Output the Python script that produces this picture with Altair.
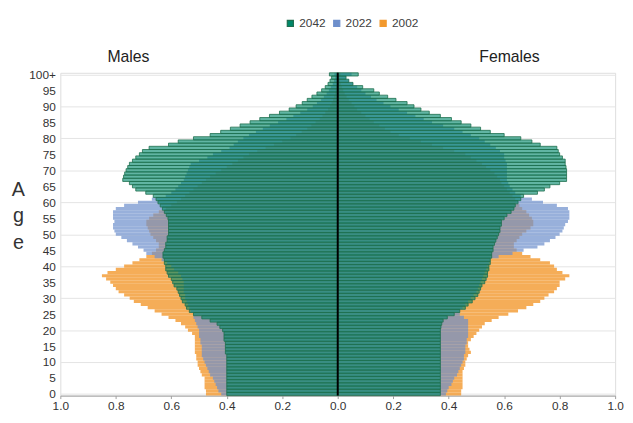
import altair as alt
import pandas as pd
import numpy as np

ages = list(range(101))
years = ["2042", "2022", "2002"]
sex_titles = ["Males", "Females"]
x_ticks = [-1.0, -0.8, -0.6, -0.4, -0.2, 0.0, 0.2, 0.4, 0.6, 0.8, 1.0]
y_ticks = [0, 5, 10, 15, 20, 25, 30, 35, 40, 45, 50, 55, 60, 65, 70, 75, 80, 85, 90, 95, 100]

male_2042 = [
    0.40, 0.40, 0.40, 0.40, 0.40, 0.40, 0.40, 0.40, 0.40, 0.40,
    0.40, 0.40, 0.40, 0.405, 0.405, 0.405, 0.405, 0.41, 0.41, 0.41,
    0.415, 0.425, 0.435, 0.46, 0.49, 0.52, 0.535, 0.545, 0.55, 0.56,
    0.565, 0.57, 0.575, 0.58, 0.59, 0.595, 0.60, 0.61, 0.615, 0.62,
    0.62, 0.625, 0.625, 0.63, 0.63, 0.625, 0.62, 0.62, 0.615, 0.615,
    0.61, 0.61, 0.61, 0.61, 0.61, 0.612, 0.618, 0.625, 0.632, 0.64,
    0.648, 0.655, 0.665, 0.692, 0.728, 0.74, 0.751, 0.775, 0.772, 0.768,
    0.763, 0.757, 0.751, 0.74, 0.728, 0.715, 0.704, 0.68, 0.61, 0.575,
    0.52, 0.46, 0.422, 0.387, 0.352, 0.316, 0.281, 0.246, 0.21, 0.175,
    0.15, 0.128, 0.11, 0.093, 0.075, 0.058, 0.045, 0.035, 0.028, 0.022,
    0.03,
]
male_2022 = [
    0.42, 0.43, 0.435, 0.44, 0.445, 0.45, 0.46, 0.465, 0.47, 0.475,
    0.48, 0.485, 0.49, 0.49, 0.49, 0.49, 0.495, 0.495, 0.50, 0.50,
    0.50, 0.505, 0.51, 0.515, 0.52, 0.52, 0.53, 0.535, 0.54, 0.545,
    0.55, 0.55, 0.555, 0.555, 0.555, 0.555, 0.56, 0.565, 0.575, 0.59,
    0.60, 0.615, 0.635, 0.66, 0.69, 0.70, 0.72, 0.74, 0.76, 0.78,
    0.80, 0.805, 0.81, 0.81, 0.805, 0.81, 0.81, 0.81, 0.80, 0.77,
    0.72, 0.67, 0.62, 0.60, 0.585, 0.575, 0.565, 0.555, 0.55, 0.545,
    0.54, 0.535, 0.53, 0.50, 0.47, 0.45, 0.42, 0.39, 0.375, 0.36,
    0.34, 0.32, 0.295, 0.27, 0.245, 0.215, 0.185, 0.16, 0.135, 0.11,
    0.09, 0.075, 0.06, 0.05, 0.04, 0.032, 0.025, 0.018, 0.013, 0.009,
    0.012,
]
male_2002 = [
    0.475, 0.475, 0.48, 0.48, 0.48, 0.48, 0.49, 0.495, 0.50, 0.505,
    0.505, 0.51, 0.51, 0.515, 0.515, 0.515, 0.515, 0.515, 0.515, 0.525,
    0.54, 0.55, 0.565, 0.585, 0.61, 0.635, 0.66, 0.685, 0.71, 0.735,
    0.75, 0.77, 0.79, 0.80, 0.81, 0.82, 0.835, 0.85, 0.83, 0.80,
    0.77, 0.74, 0.715, 0.69, 0.67, 0.655, 0.645, 0.645, 0.655, 0.665,
    0.675, 0.68, 0.685, 0.69, 0.69, 0.68, 0.665, 0.645, 0.62, 0.60,
    0.58, 0.565, 0.55, 0.535, 0.52, 0.505, 0.49, 0.475, 0.46, 0.44,
    0.42, 0.40, 0.38, 0.36, 0.34, 0.32, 0.29, 0.26, 0.23, 0.20,
    0.17, 0.15, 0.13, 0.11, 0.095, 0.08, 0.065, 0.055, 0.045, 0.035,
    0.028, 0.022, 0.017, 0.013, 0.01, 0.008, 0.006, 0.004, 0.003, 0.002,
    0.003,
]
female_2042 = [
    0.37, 0.37, 0.37, 0.37, 0.37, 0.37, 0.37, 0.37, 0.37, 0.37,
    0.37, 0.37, 0.37, 0.37, 0.37, 0.37, 0.37, 0.37, 0.37, 0.37,
    0.37, 0.372, 0.375, 0.38, 0.395, 0.42, 0.44, 0.46, 0.47, 0.485,
    0.495, 0.505, 0.51, 0.515, 0.52, 0.53, 0.535, 0.54, 0.54, 0.545,
    0.545, 0.55, 0.55, 0.555, 0.555, 0.56, 0.56, 0.565, 0.57, 0.575,
    0.58, 0.585, 0.585, 0.59, 0.59, 0.60, 0.61, 0.625, 0.635, 0.64,
    0.65, 0.66, 0.67, 0.72, 0.745, 0.765, 0.80, 0.825, 0.825, 0.825,
    0.825, 0.823, 0.82, 0.82, 0.81, 0.80, 0.795, 0.79, 0.73, 0.70,
    0.66, 0.60, 0.55, 0.515, 0.48, 0.445, 0.41, 0.37, 0.33, 0.30,
    0.275, 0.25, 0.21, 0.18, 0.15, 0.13, 0.09, 0.055, 0.04, 0.03,
    0.074,
]
female_2022 = [
    0.39, 0.395, 0.40, 0.41, 0.415, 0.42, 0.43, 0.435, 0.44, 0.445,
    0.45, 0.455, 0.455, 0.46, 0.46, 0.46, 0.465, 0.465, 0.47, 0.47,
    0.47, 0.47, 0.47, 0.47, 0.455, 0.44, 0.44, 0.45, 0.46, 0.47,
    0.48, 0.49, 0.50, 0.505, 0.51, 0.515, 0.52, 0.525, 0.53, 0.535,
    0.54, 0.545, 0.55, 0.58, 0.63, 0.67, 0.72, 0.745, 0.765, 0.785,
    0.80, 0.81, 0.815, 0.82, 0.83, 0.835, 0.835, 0.835, 0.83, 0.79,
    0.74, 0.70, 0.66, 0.64, 0.63, 0.62, 0.615, 0.61, 0.61, 0.61,
    0.61, 0.61, 0.61, 0.605, 0.60, 0.60, 0.585, 0.57, 0.55, 0.53,
    0.51, 0.48, 0.45, 0.42, 0.38, 0.34, 0.31, 0.28, 0.25, 0.22,
    0.19, 0.165, 0.14, 0.12, 0.10, 0.085, 0.07, 0.055, 0.04, 0.03,
    0.05,
]
female_2002 = [
    0.445, 0.445, 0.45, 0.45, 0.45, 0.45, 0.45, 0.45, 0.455, 0.46,
    0.46, 0.465, 0.47, 0.48, 0.475, 0.47, 0.47, 0.48, 0.49, 0.50,
    0.51, 0.52, 0.53, 0.555, 0.58, 0.615, 0.65, 0.68, 0.705, 0.73,
    0.745, 0.76, 0.78, 0.79, 0.80, 0.80, 0.82, 0.835, 0.81, 0.79,
    0.78, 0.765, 0.73, 0.695, 0.665, 0.645, 0.635, 0.635, 0.645, 0.655,
    0.665, 0.68, 0.695, 0.705, 0.705, 0.70, 0.69, 0.68, 0.665, 0.655,
    0.645, 0.64, 0.63, 0.62, 0.61, 0.60, 0.59, 0.585, 0.575, 0.565,
    0.55, 0.535, 0.52, 0.50, 0.48, 0.46, 0.42, 0.38, 0.34, 0.30,
    0.26, 0.22, 0.19, 0.17, 0.15, 0.13, 0.115, 0.10, 0.085, 0.07,
    0.06, 0.05, 0.04, 0.032, 0.025, 0.02, 0.015, 0.011, 0.008, 0.006,
    0.01,
]

rows = []
for year, m, f in [("2002", male_2002, female_2002),
                   ("2022", male_2022, female_2022),
                   ("2042", male_2042, female_2042)]:
    for a, v in zip(ages, m):
        rows.append({"age": a, "year": year, "sex": "Males", "value": v})
    for a, v in zip(ages, f):
        rows.append({"age": a, "year": year, "sex": "Females", "value": v})
df = pd.DataFrame(rows)
df["signed"] = np.where(df["sex"] == "Males", -df["value"], df["value"])
df["lo"] = df["age"] - 0.5
df["hi"] = df["age"] + 0.5
df["zero"] = 0.0

W, H = 562, 327
FONT = "Liberation Sans"

xscale = alt.Scale(domain=[-1, 1], nice=False, zero=False)
yscale = alt.Scale(domain=[-0.5, 100.5], nice=False, zero=False)

xaxis = alt.Axis(values=x_ticks, labelExpr="format(abs(datum.value), '.1f')",
                 grid=False, domainColor="#a0a0a0", tickColor="#a0a0a0", tickSize=3,
                 labelFontSize=12, labelColor="#333333", labelPadding=2,
                 labelBaseline="top",
                 labelFlush=False, labelOverlap=False, title=None)
yaxis = alt.Axis(values=y_ticks,
                 labelExpr="datum.value == 100 ? '100+' : datum.label",
                 grid=True, gridColor="#e4e4e4",
                 gridOpacity=alt.ConditionalAxisNumber(
                     condition={"test": "datum.value % 10 === 0", "value": 1}, value=0),
                 domain=False, ticks=False, labelPadding=5,
                 labelFontSize=12, labelColor="#333333", labelOverlap=False,
                 title=["A", "g", "e"], titleAngle=0, titleX=-43, titleY=108,
                 titleFontSize=20, titleFontWeight="normal", titleLineHeight=27,
                 titleAlign="center", titleBaseline="top", titleColor="#333333")

fill_scale = alt.Scale(domain=years, range=["#00876A", "#6E8FCC", "#F2992E"])
stroke_scale = alt.Scale(domain=years, range=["#1E6E4E", "#6E8FCC", "#F2992E"])
op_scale = alt.Scale(domain=years, range=[0.62, 0.8, 1.0])

legend = alt.Legend(title=None, orient="none", legendX=227, legendY=-56,
                    direction="horizontal", symbolType="square", symbolSize=38,
                    symbolStrokeWidth=1.2, labelFontSize=12, labelColor="#404040",
                    labelOffset=3, columnPadding=5, padding=0, labelFont=FONT)


def bars(year, sw):
    return alt.Chart(df[df["year"] == year]).mark_bar(strokeWidth=sw).encode(
        x=alt.X("signed:Q", scale=xscale, axis=xaxis),
        x2="zero:Q",
        y=alt.Y("lo:Q", scale=yscale, axis=yaxis),
        y2="hi:Q",
        fill=alt.Fill("year:N", scale=fill_scale, legend=legend),
        stroke=alt.Stroke("year:N", scale=stroke_scale, legend=legend),
        fillOpacity=alt.FillOpacity("year:N", scale=op_scale, legend=legend),
    )


zero_rule = alt.Chart(pd.DataFrame({"signed": [0.0]})).mark_rule(
    color="#000000", strokeWidth=2).encode(x=alt.X("signed:Q", scale=xscale, axis=xaxis))

titles_df = pd.DataFrame({"t": sex_titles})
males_txt = alt.Chart(titles_df[titles_df["t"] == "Males"]).mark_text(
    fontSize=16, font=FONT, color="#222222", baseline="middle", align="center"
).encode(text="t:N", x=alt.value(69), y=alt.value(-16))
females_txt = alt.Chart(titles_df[titles_df["t"] == "Females"]).mark_text(
    fontSize=16, font=FONT, color="#222222", baseline="middle", align="center"
).encode(text="t:N", x=alt.value(455), y=alt.value(-16))

chart = alt.layer(
    bars("2002", 0), bars("2022", 0), bars("2042", 0.8),
    zero_rule, males_txt, females_txt
).properties(
    width=W, height=H,
    autosize=alt.AutoSizeParams(type="none"),
    padding={"left": 53, "top": 63, "right": 10, "bottom": 17},
).configure_view(stroke=None).configure(font=FONT, background="white")

chart.save("out.html", embed_options={"renderer": "svg", "actions": False})
